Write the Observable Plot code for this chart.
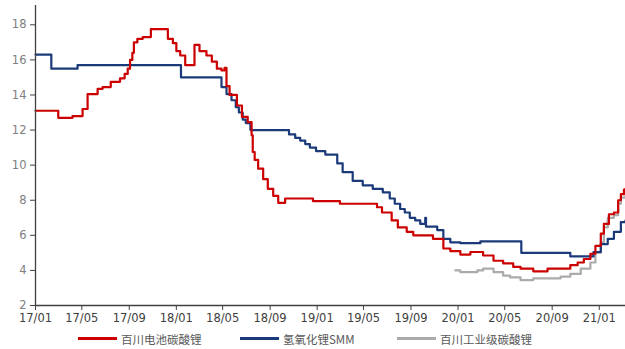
<!DOCTYPE html>
<html>
<head>
<meta charset="utf-8">
<script src="https://cdn.jsdelivr.net/npm/d3@7"></script>
<script src="https://cdn.jsdelivr.net/npm/@observablehq/plot@0.6"></script>
<style>
  html, body { margin: 0; padding: 0; background: #fff; }
  #wrap { position: relative; width: 625px; height: 349px; }
  #legend { position: absolute; left: 0; top: 328px; width: 625px; height: 21px;
            font-family: "Noto Sans CJK SC", "DejaVu Sans", sans-serif; font-size: 11.5px; color: #595959; }
  .item { position: absolute; top: 0; height: 21px; display: flex; align-items: center; }
  .swatch { width: 39px; height: 3px; margin-right: 4px; }
</style>
</head>
<body>
<div id="wrap"><div id="chart"></div><div id="legend"></div></div>
<script>
// Series names
const seriesNames = ["百川电池碳酸锂", "氢氧化锂SMM", "百川工业级碳酸锂"];
const seriesColors = ["#CC0000", "#1B3A7A", "#ABABAB"];

// 百川电池碳酸锂 (万元/吨)
const batteryDates = ["2017-01-01","2017-03-01","2017-04-07","2017-05-03","2017-05-16","2017-06-11","2017-06-24","2017-07-15","2017-08-08","2017-08-20","2017-08-28","2017-09-03","2017-09-09","2017-09-13","2017-09-22","2017-10-06","2017-10-27","2017-12-10","2017-12-23","2018-01-01","2018-01-11","2018-01-24","2018-02-17","2018-03-02","2018-03-20","2018-04-03","2018-04-16","2018-04-28","2018-05-06","2018-05-11","2018-05-19","2018-06-07","2018-06-20","2018-07-05","2018-07-15","2018-07-18","2018-07-23","2018-08-01","2018-08-14","2018-08-26","2018-09-09","2018-09-22","2018-10-10","2018-12-21","2019-01-01","2019-03-01","2019-06-05","2019-06-18","2019-07-13","2019-07-29","2019-08-21","2019-09-07","2019-10-28","2019-11-24","2019-12-12","2020-01-07","2020-02-02","2020-03-06","2020-04-02","2020-04-27","2020-05-23","2020-06-11","2020-07-14","2020-08-20","2020-10-18","2020-11-06","2020-11-22","2020-12-09","2020-12-22","2021-01-05","2021-01-13","2021-01-26","2021-02-08","2021-02-19","2021-02-26","2021-03-06","2021-03-10"];
const batteryValues = [13.1,12.7,12.8,13.2,14.05,14.35,14.45,14.75,14.95,15.2,15.5,16.0,16.4,17.0,17.2,17.3,17.75,17.2,16.95,16.5,16.25,15.7,16.85,16.5,16.25,15.9,15.5,15.4,15.55,14.5,14.0,13.4,12.75,12.45,11.7,10.75,10.3,9.8,9.2,8.65,8.25,7.85,8.1,7.95,7.95,7.8,7.6,7.3,6.85,6.45,6.2,6.0,5.8,5.25,5.1,4.9,5.05,4.85,4.55,4.4,4.2,4.1,3.95,4.1,4.3,4.45,4.65,4.95,5.4,6.1,6.65,7.2,7.3,8.0,8.35,8.6,8.65];

// 氢氧化锂SMM
const hydroxideDates = ["2017-01-01","2017-02-11","2017-04-20","2018-01-13","2018-04-28","2018-05-11","2018-05-24","2018-06-04","2018-06-12","2018-06-22","2018-06-30","2018-07-12","2018-10-20","2018-11-05","2018-11-18","2018-12-01","2018-12-13","2018-12-29","2019-01-22","2019-02-22","2019-03-08","2019-04-03","2019-04-29","2019-05-25","2019-06-20","2019-07-08","2019-07-21","2019-08-04","2019-08-16","2019-08-29","2019-09-12","2019-09-25","2019-10-08","2019-10-10","2019-11-08","2019-11-24","2019-12-12","2020-01-07","2020-02-28","2020-06-13","2020-10-18","2020-12-17","2021-01-05","2021-01-23","2021-02-08","2021-02-26","2021-03-10"];
const hydroxideValues = [16.3,15.5,15.7,15.0,14.45,14.05,13.7,13.3,13.0,12.6,12.4,12.0,11.75,11.55,11.4,11.2,11.0,10.8,10.6,10.1,9.6,9.1,8.85,8.65,8.45,8.1,7.8,7.5,7.3,7.0,6.85,6.65,7.0,6.5,6.3,5.8,5.6,5.55,5.65,5.0,4.8,5.05,5.5,5.8,6.2,6.75,6.85];

// 百川工业级碳酸锂
const industrialDates = ["2019-12-25","2020-01-07","2020-02-20","2020-03-06","2020-04-02","2020-04-27","2020-05-15","2020-06-11","2020-07-14","2020-09-23","2020-10-18","2020-11-14","2020-12-09","2020-12-22","2021-01-05","2021-01-13","2021-01-23","2021-02-08","2021-02-19","2021-02-26","2021-03-10"];
const industrialValues = [4.0,3.9,4.0,4.1,3.9,3.7,3.6,3.45,3.55,3.65,3.8,4.1,4.45,5.0,5.6,6.45,7.0,7.15,7.8,8.15,8.25];

// Axis ticks
const xTickDates = ["2017-01-01","2017-05-01","2017-09-01","2018-01-01","2018-05-01","2018-09-01","2019-01-01","2019-05-01","2019-09-01","2020-01-01","2020-05-01","2020-09-01","2021-01-01"];
const xTickLabels = ["17/01","17/05","17/09","18/01","18/05","18/09","19/01","19/05","19/09","20/01","20/05","20/09","21/01"];
const yTicks = [2,4,6,8,10,12,14,16,18];

const toRows = (dates, values, name) => dates.map((d, i) => ({date: new Date(d), value: values[i], series: name}));
const rows = [
  ...toRows(batteryDates, batteryValues, seriesNames[0]),
  ...toRows(hydroxideDates, hydroxideValues, seriesNames[1]),
  ...toRows(industrialDates, industrialValues, seriesNames[2])
];
const xStart = new Date("2017-01-01");
const xEnd = new Date("2021-03-10");
const tickDates = xTickDates.map(d => new Date(d));
const labelFor = d => { const i = tickDates.findIndex(t => +t === +d); return i >= 0 ? xTickLabels[i] : ""; };

const chart = Plot.plot({
  width: 625,
  height: 328,
  marginLeft: 35,
  marginRight: 0,
  marginTop: 5,
  marginBottom: 23,
  style: {fontFamily: "DejaVu Sans, sans-serif", fontSize: "11px", background: "#fff"},
  x: {type: "utc", domain: [xStart, xEnd]},
  y: {domain: [2, 19.1]},
  color: {domain: seriesNames, range: seriesColors},
  marks: [
    Plot.line(rows.filter(r => r.series === seriesNames[2]), {x: "date", y: "value", stroke: seriesColors[2], strokeWidth: 2.2, curve: "step-after"}),
    Plot.line(rows.filter(r => r.series === seriesNames[1]), {x: "date", y: "value", stroke: seriesColors[1], strokeWidth: 2.2, curve: "step-after"}),
    Plot.line(rows.filter(r => r.series === seriesNames[0]), {x: "date", y: "value", stroke: seriesColors[0], strokeWidth: 2.2, curve: "step-after"}),
    Plot.ruleX([xStart], {stroke: "#404040", strokeWidth: 1.3}),
    Plot.ruleY([2], {stroke: "#404040", strokeWidth: 1.3}),
    Plot.axisY({ticks: yTicks, tickSize: 5, tickPadding: 4, stroke: "#404040", fill: "#808080", fontSize: 11.5, label: null}),
    Plot.axisX({ticks: tickDates, tickFormat: labelFor, tickSize: 5, tickPadding: 3, stroke: "#404040", fill: "#404040", fontSize: 11.5, label: null})
  ]
});
document.getElementById("chart").appendChild(chart);

const legendPos = [78, 240, 397];
const legend = document.getElementById("legend");
seriesNames.forEach((name, i) => {
  const item = document.createElement("div");
  item.className = "item";
  item.style.left = legendPos[i] + "px";
  const sw = document.createElement("div");
  sw.className = "swatch";
  sw.style.background = seriesColors[i];
  const tx = document.createElement("span");
  tx.textContent = name;
  item.appendChild(sw); item.appendChild(tx);
  legend.appendChild(item);
});
</script>
</body>
</html>
